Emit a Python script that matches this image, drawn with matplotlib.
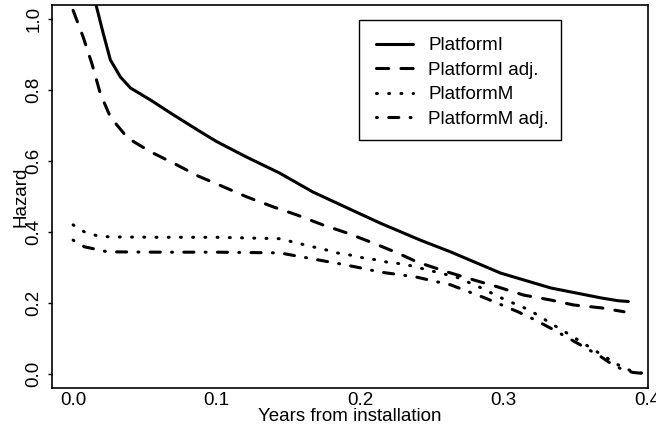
import matplotlib
matplotlib.use("Agg")
import matplotlib.pyplot as plt
from matplotlib.patches import Rectangle

plt.rcParams['font.family'] = ['Liberation Sans', 'DejaVu Sans']

# PlatformI (solid)
pi_x = [0.0, 0.008, 0.016, 0.021, 0.026, 0.033, 0.040, 0.054, 0.070, 0.089, 0.100,
        0.121, 0.144, 0.167, 0.191, 0.214, 0.242, 0.263, 0.298, 0.333, 0.368, 0.380, 0.387]
pi_y = [1.35, 1.18, 1.04, 0.96, 0.885, 0.837, 0.806, 0.772, 0.730, 0.682, 0.655,
        0.611, 0.566, 0.513, 0.468, 0.425, 0.377, 0.344, 0.284, 0.242, 0.214, 0.206, 0.204]

# PlatformI adj. (dashed)
pia_x = [0.0, 0.007, 0.013, 0.019, 0.026, 0.038, 0.054, 0.070, 0.087, 0.105, 0.121, 0.140,
         0.156, 0.174, 0.191, 0.209, 0.226, 0.240, 0.261, 0.279, 0.296, 0.314, 0.333,
         0.349, 0.368, 0.384]
pia_y = [1.025, 0.95, 0.876, 0.79, 0.724, 0.665, 0.626, 0.594, 0.558, 0.527, 0.499, 0.470,
         0.448, 0.42, 0.397, 0.369, 0.341, 0.315, 0.287, 0.265, 0.245, 0.222, 0.208,
         0.194, 0.186, 0.175]

# PlatformM (dotted)
pm_x = [0.0, 0.008, 0.017, 0.026, 0.06, 0.10, 0.144, 0.156, 0.165, 0.174, 0.184, 0.193,
        0.202, 0.212, 0.221, 0.230, 0.247, 0.267, 0.283, 0.300, 0.318, 0.334, 0.349,
        0.366, 0.380, 0.390, 0.400]
pm_y = [0.42, 0.40, 0.389, 0.386, 0.385, 0.385, 0.381, 0.369, 0.36, 0.352, 0.341, 0.335,
        0.327, 0.321, 0.313, 0.31, 0.293, 0.273, 0.245, 0.211, 0.18, 0.14, 0.103,
        0.06, 0.025, 0.006, 0.0]

# PlatformM adj. (dash-dot)
pma_x = [0.0, 0.008, 0.015, 0.024, 0.06, 0.10, 0.144, 0.163, 0.186, 0.200, 0.214, 0.239,
         0.263, 0.287, 0.310, 0.322, 0.335, 0.356, 0.368, 0.378, 0.390, 0.400]
pma_y = [0.377, 0.358, 0.352, 0.344, 0.343, 0.343, 0.341, 0.327, 0.31, 0.299, 0.287, 0.273,
         0.251, 0.214, 0.175, 0.152, 0.124, 0.076, 0.048, 0.02, 0.004, 0.0]

x_ticks = [0.0, 0.1, 0.2, 0.3, 0.4]
y_ticks = [0.0, 0.2, 0.4, 0.6, 0.8, 1.0]

fig = plt.figure(figsize=(6.56, 4.28), dpi=100)
ax = fig.add_axes([52 / 656, 40 / 428, 596 / 656, 383 / 428])

lw = 2.2
kw = dict(color='black', linewidth=lw, dash_capstyle='round', solid_capstyle='round')
ax.plot(pi_x, pi_y, linestyle='-', label='PlatformI', **kw)
ax.plot(pia_x, pia_y, linestyle=(0, (4, 4)), label='PlatformI adj.', **kw)
ax.plot(pm_x, pm_y, linestyle=(0, (0.3, 3.7)), label='PlatformM', **kw)
ax.plot(pma_x, pma_y, linestyle=(0, (0.3, 3.7, 3.3, 3.7)), label='PlatformM adj.', **kw)

ax.set_xlim(-0.0147, 0.4007)
ax.set_ylim(-0.04, 1.04)
ax.set_xticks(x_ticks)
ax.set_xticklabels(['0.0', '0.1', '0.2', '0.3', '0.4'])
ax.set_yticks(y_ticks)
ax.set_yticklabels(['0.0', '0.2', '0.4', '0.6', '0.8', '1.0'])

ax.tick_params(axis='x', length=0, pad=3, labelsize=13.5)
ax.tick_params(axis='y', length=3, width=1, pad=4, labelsize=13.5, labelrotation=90)
for lab in ax.get_yticklabels():
    lab.set_va('center')

for sp in ax.spines.values():
    sp.set_linewidth(1.2)
    sp.set_color('black')

ax.set_xlabel('Years from installation', fontsize=13.5)
ax.xaxis.set_label_coords(0.5, -0.053)
ax.set_ylabel('Hazard', fontsize=13.5)
ax.yaxis.set_label_coords(-0.037, 0.5)

# legend: entries without frame, box drawn separately
leg = ax.legend(loc='upper left', bbox_to_anchor=(376 / 656, 1 - 37 / 428),
                bbox_transform=fig.transFigure, borderaxespad=0, fontsize=13.5,
                frameon=False, handlelength=1.95, handletextpad=0.85,
                labelspacing=0.4, borderpad=0)
fig.patches.append(Rectangle((359 / 656, 1 - 140 / 428), 202 / 656, 120 / 428,
                             transform=fig.transFigure, fill=False,
                             edgecolor='black', linewidth=1.0, zorder=5))

fig.savefig('out.png', dpi=100)
